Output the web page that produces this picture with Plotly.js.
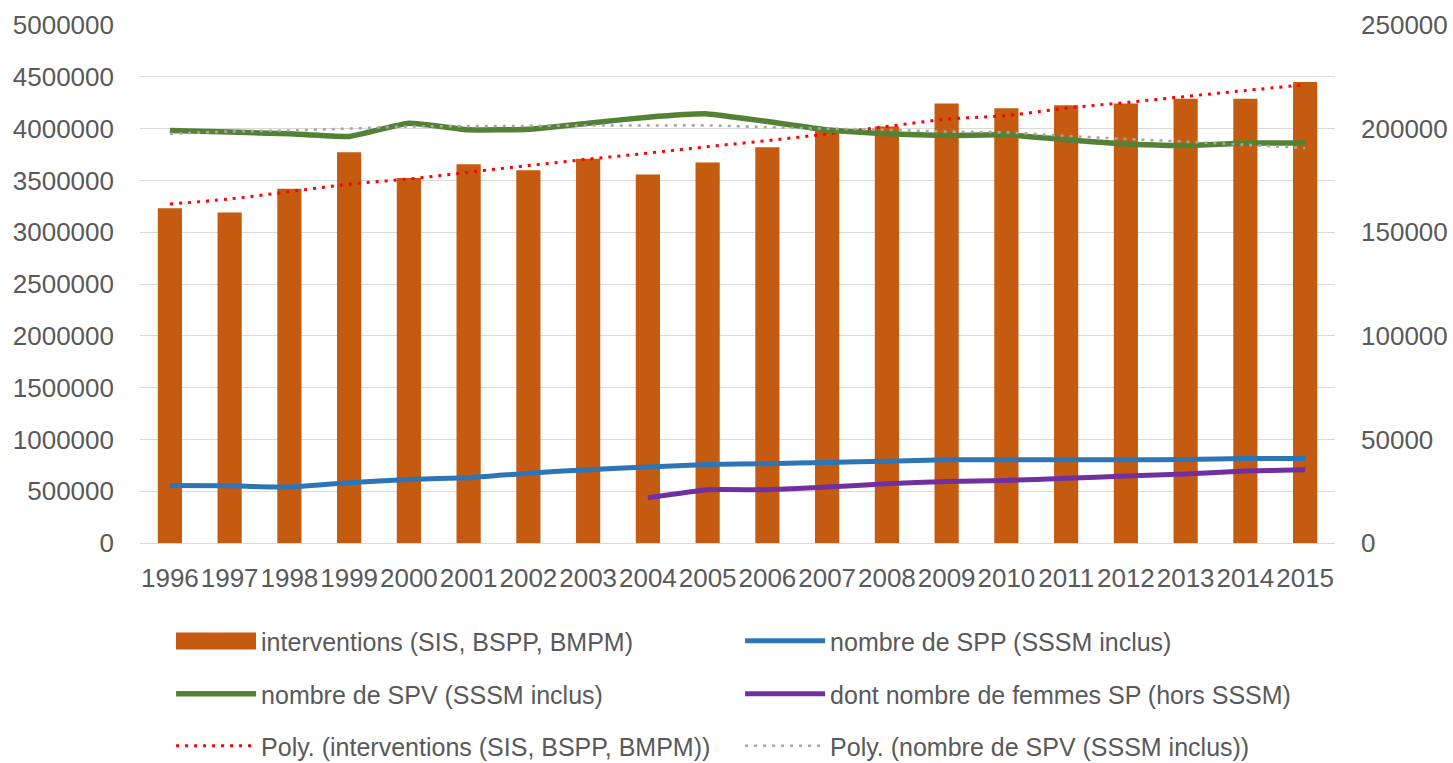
<!DOCTYPE html>
<html>
<head>
<meta charset="utf-8">
<script src="https://cdn.plot.ly/plotly-3.0.1.min.js"></script>
<style>
  html, body { margin: 0; padding: 0; background: #ffffff; }
  #chart { width: 1453px; height: 763px; }
</style>
</head>
<body>
<div id="chart"></div>
<script>
const years = ["1996","1997","1998","1999","2000","2001","2002","2003","2004","2005",
               "2006","2007","2008","2009","2010","2011","2012","2013","2014","2015"];

const interventions = [3230000, 3190000, 3420000, 3772000, 3524000, 3656000, 3598000, 3710000, 3556000, 3672000,
                       3820000, 3980000, 4020000, 4242000, 4197000, 4226000, 4242000, 4287000, 4287000, 4449000];

const nombreSPP = [27800, 27600, 27000, 29100, 30700, 31500, 33700, 35400, 36700, 37900,
                   38300, 38900, 39500, 40200, 40200, 40200, 40200, 40300, 40800, 40800];

const nombreSPV = [199100, 198300, 197500, 196200, 202600, 199400, 199700, 202600, 205500, 207100,
                   203400, 199400, 197500, 196700, 197000, 194600, 192600, 191800, 193000, 193000];

const femmesSP = [null, null, null, null, null, null, null, null, 21800, 25700,
                  25700, 27000, 28600, 29700, 30200, 31200, 32300, 33300, 34700, 35400];

const polyInterventions = [3272000, 3321000, 3391000, 3463000, 3514000, 3579000, 3643000, 3705000, 3763000, 3826000,
                           3884000, 3949000, 4020000, 4091000, 4126000, 4197000, 4252000, 4310000, 4368000, 4423000];

const polySPV = [197500, 198600, 199100, 200000, 201000, 201200, 201300, 201500, 201500, 201500,
                 200700, 200000, 199400, 198600, 198100, 196500, 195000, 193700, 192200, 190600];

const names = {
  interventions: "interventions (SIS, BSPP, BMPM)",
  spp: "nombre de SPP (SSSM inclus)",
  spv: "nombre de SPV (SSSM inclus)",
  femmes: "dont nombre de femmes SP (hors SSSM)",
  polyInt: "Poly. (interventions (SIS, BSPP, BMPM))",
  polySPV: "Poly. (nombre de SPV (SSSM inclus))"
};

const textColor = "#595959";
const fontFamily = "Liberation Sans, Arial, sans-serif";
const barColor = "#C55A11";

const traces = [
  {
    type: "bar", x: years, y: interventions, name: names.interventions,
    marker: { color: barColor, line: { width: 0 } },
    yaxis: "y", legend: "legend"
  },
  {
    type: "scatter", mode: "lines", x: years, y: nombreSPP, name: names.spp,
    line: { color: "#2E75B6", width: 5, shape: "spline", smoothing: 0.4 },
    yaxis: "y2", legend: "legend"
  },
  {
    type: "scatter", mode: "lines", x: years, y: nombreSPV, name: names.spv,
    line: { color: "#548235", width: 5.5, shape: "spline", smoothing: 0.4 },
    yaxis: "y2", legend: "legend2"
  },
  {
    type: "scatter", mode: "lines", x: years, y: femmesSP, name: names.femmes,
    line: { color: "#7030A0", width: 5, shape: "spline", smoothing: 0.4 },
    yaxis: "y2", legend: "legend2"
  },
  {
    type: "scatter", mode: "lines", x: years, y: polyInterventions, name: names.polyInt,
    line: { color: "#FF0000", width: 3, dash: "3px,6px", shape: "spline" },
    yaxis: "y", legend: "legend3"
  },
  {
    type: "scatter", mode: "lines", x: years, y: polySPV, name: names.polySPV,
    line: { color: "#A6A6A6", width: 2.6, dash: "3px,6px", shape: "spline" },
    yaxis: "y2", legend: "legend3"
  }
];

const legendCommon = {
  orientation: "h",
  xref: "paper", yref: "container",
  x: 0.026, xanchor: "left", yanchor: "middle",
  entrywidth: 474, entrywidthmode: "pixels",
  itemwidth: 80,
  font: { family: fontFamily, size: 25, color: textColor },
  bgcolor: "rgba(0,0,0,0)",
  traceorder: "normal"
};

const row1 = 641, row2 = 694, row3 = 746;

const layout = {
  width: 1453, height: 763,
  margin: { l: 140, r: 118, t: 25, b: 220, pad: 0 },
  paper_bgcolor: "#ffffff",
  plot_bgcolor: "#ffffff",
  font: { family: fontFamily, size: 25, color: textColor },
  bargap: 0.595,
  showlegend: true,
  xaxis: {
    type: "category",
    tickangle: 0,
    showgrid: false,
    showline: true, linecolor: "#D9D9D9", linewidth: 1,
    ticks: "",
    ticklabelstandoff: 12,
    tickfont: { family: fontFamily, size: 26, color: textColor },
    automargin: false
  },
  yaxis: {
    range: [0, 5000000],
    dtick: 500000,
    tickformat: "d",
    showgrid: true, gridcolor: "#D9D9D9", gridwidth: 1,
    zeroline: false,
    ticks: "",
    ticklabelstandoff: 25,
    tickfont: { family: fontFamily, size: 26, color: textColor },
    automargin: false
  },
  yaxis2: {
    range: [0, 250000],
    dtick: 50000,
    tickformat: "d",
    overlaying: "y",
    side: "right",
    showgrid: false,
    zeroline: false,
    ticks: "",
    ticklabelstandoff: 25,
    tickfont: { family: fontFamily, size: 26, color: textColor },
    automargin: false
  },
  legend: Object.assign({}, legendCommon, { y: 1 - row1 / 763 }),
  legend2: Object.assign({}, legendCommon, { y: 1 - row2 / 763 }),
  legend3: Object.assign({}, legendCommon, { y: 1 - row3 / 763 }),
  shapes: [
    {
      type: "rect", xref: "paper", yref: "paper", layer: "above",
      x0: (176 - 140) / 1195, x1: (256 - 140) / 1195,
      y0: 1 - (row1 + 8.5 - 25) / 518 , y1: 1 - (row1 - 8.5 - 25) / 518,
      fillcolor: barColor, line: { width: 0 }
    }
  ]
};

Plotly.newPlot("chart", traces, layout, { displayModeBar: false, responsive: false });
</script>
</body>
</html>
